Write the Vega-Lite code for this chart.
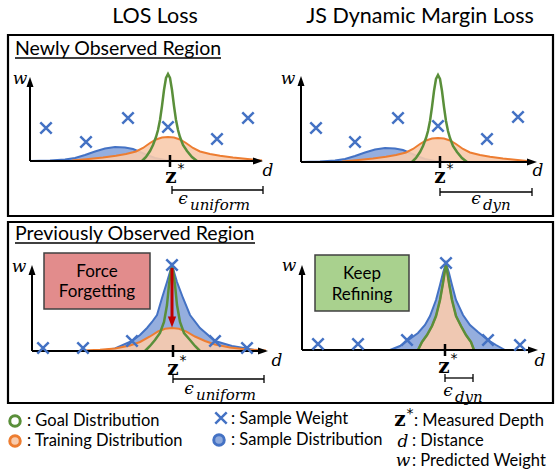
{
"$schema": "https://vega.github.io/schema/vega-lite/v6.json",
"width": 555, "height": 473, "autosize": {"type": "none"}, "padding": 0,
"background": "white",
"config": {"view": {"stroke": null}},
"datasets": {
"frames": [{"x":8,"y":35,"x2":553,"y2":216},{"x":8,"y":222,"x2":553,"y2":403}],
"boxes": [{"k":"force","x":44,"y":253,"x2":150,"y2":309},{"k":"keep","x":315,"y":255,"x2":409,"y2":311}],
"blue": [
{"p":1,"b":161,"x":30,"y":161},{"p":1,"b":161,"x":50,"y":160.5},{"p":1,"b":161,"x":65,"y":159.5},{"p":1,"b":161,"x":75,"y":158},{"p":1,"b":161,"x":85,"y":155},{"p":1,"b":161,"x":95,"y":151.5},{"p":1,"b":161,"x":105,"y":148.5},{"p":1,"b":161,"x":115,"y":147},{"p":1,"b":161,"x":125,"y":147.5},{"p":1,"b":161,"x":133,"y":149},{"p":1,"b":161,"x":140,"y":152},{"p":1,"b":161,"x":147,"y":155},{"p":1,"b":161,"x":155,"y":158},{"p":1,"b":161,"x":165,"y":160},{"p":1,"b":161,"x":180,"y":161},
{"p":2,"b":162,"x":301,"y":162},{"p":2,"b":162,"x":320,"y":161.5},{"p":2,"b":162,"x":335,"y":160.5},{"p":2,"b":162,"x":345,"y":159},{"p":2,"b":162,"x":355,"y":156},{"p":2,"b":162,"x":365,"y":152.5},{"p":2,"b":162,"x":375,"y":149.5},{"p":2,"b":162,"x":385,"y":148},{"p":2,"b":162,"x":395,"y":148.5},{"p":2,"b":162,"x":403,"y":150},{"p":2,"b":162,"x":410,"y":153},{"p":2,"b":162,"x":417,"y":156},{"p":2,"b":162,"x":425,"y":159},{"p":2,"b":162,"x":435,"y":161},{"p":2,"b":162,"x":450,"y":162},
{"p":3,"b":351,"x":100,"y":351},{"p":3,"b":351,"x":115,"y":348.5},{"p":3,"b":351,"x":132,"y":341},{"p":3,"b":351,"x":140,"y":335},{"p":3,"b":351,"x":147,"y":328},{"p":3,"b":351,"x":152,"y":322},{"p":3,"b":351,"x":157,"y":315},{"p":3,"b":351,"x":162,"y":298},{"p":3,"b":351,"x":167,"y":282},{"p":3,"b":351,"x":172,"y":265},{"p":3,"b":351,"x":177,"y":282},{"p":3,"b":351,"x":183,"y":298},{"p":3,"b":351,"x":190,"y":315},{"p":3,"b":351,"x":200,"y":328},{"p":3,"b":351,"x":215,"y":341},{"p":3,"b":351,"x":232,"y":346},{"p":3,"b":351,"x":247,"y":348.5},{"p":3,"b":351,"x":260,"y":351},
{"p":4,"b":350,"x":390,"y":350},{"p":4,"b":350,"x":400,"y":346},{"p":4,"b":350,"x":407,"y":341},{"p":4,"b":350,"x":418,"y":333},{"p":4,"b":350,"x":425,"y":325},{"p":4,"b":350,"x":430,"y":316},{"p":4,"b":350,"x":436,"y":300},{"p":4,"b":350,"x":440,"y":285},{"p":4,"b":350,"x":443,"y":273},{"p":4,"b":350,"x":446,"y":263},{"p":4,"b":350,"x":449,"y":273},{"p":4,"b":350,"x":452,"y":285},{"p":4,"b":350,"x":456,"y":300},{"p":4,"b":350,"x":463,"y":315},{"p":4,"b":350,"x":470,"y":325},{"p":4,"b":350,"x":478,"y":332},{"p":4,"b":350,"x":488,"y":340},{"p":4,"b":350,"x":496,"y":345},{"p":4,"b":350,"x":505,"y":350}
],
"orange": [
{"p":1,"b":161,"x":72,"y":160.5},{"p":1,"b":161,"x":86,"y":159.3},{"p":1,"b":161,"x":103,"y":157.5},{"p":1,"b":161,"x":116,"y":155.8},{"p":1,"b":161,"x":126,"y":154},{"p":1,"b":161,"x":136,"y":151.5},{"p":1,"b":161,"x":143,"y":148},{"p":1,"b":161,"x":150,"y":143},{"p":1,"b":161,"x":156,"y":139.5},{"p":1,"b":161,"x":162,"y":137.5},{"p":1,"b":161,"x":168,"y":137},{"p":1,"b":161,"x":174,"y":137.5},{"p":1,"b":161,"x":180,"y":139.5},{"p":1,"b":161,"x":186,"y":143},{"p":1,"b":161,"x":193,"y":148},{"p":1,"b":161,"x":200,"y":151.5},{"p":1,"b":161,"x":210,"y":154},{"p":1,"b":161,"x":220,"y":155.8},{"p":1,"b":161,"x":233,"y":157.5},{"p":1,"b":161,"x":250,"y":159.3},{"p":1,"b":161,"x":262,"y":160.5},
{"p":2,"b":162,"x":342,"y":161.5},{"p":2,"b":162,"x":356,"y":160.3},{"p":2,"b":162,"x":373,"y":158.5},{"p":2,"b":162,"x":386,"y":156.8},{"p":2,"b":162,"x":396,"y":155},{"p":2,"b":162,"x":406,"y":152.5},{"p":2,"b":162,"x":413,"y":149},{"p":2,"b":162,"x":420,"y":144},{"p":2,"b":162,"x":426,"y":140.5},{"p":2,"b":162,"x":432,"y":138.5},{"p":2,"b":162,"x":438,"y":138},{"p":2,"b":162,"x":444,"y":138.5},{"p":2,"b":162,"x":450,"y":140.5},{"p":2,"b":162,"x":456,"y":144},{"p":2,"b":162,"x":463,"y":149},{"p":2,"b":162,"x":470,"y":152.5},{"p":2,"b":162,"x":480,"y":155},{"p":2,"b":162,"x":490,"y":156.8},{"p":2,"b":162,"x":503,"y":158.5},{"p":2,"b":162,"x":520,"y":160.3},{"p":2,"b":162,"x":532,"y":161.5},
{"p":3,"b":351,"x":83,"y":350.5},{"p":3,"b":351,"x":100,"y":349.7},{"p":3,"b":351,"x":115,"y":348.5},{"p":3,"b":351,"x":130,"y":345.5},{"p":3,"b":351,"x":140,"y":342},{"p":3,"b":351,"x":150,"y":336.5},{"p":3,"b":351,"x":158,"y":331.5},{"p":3,"b":351,"x":165,"y":328.7},{"p":3,"b":351,"x":172,"y":328},{"p":3,"b":351,"x":179,"y":328.7},{"p":3,"b":351,"x":186,"y":331.5},{"p":3,"b":351,"x":195,"y":336.5},{"p":3,"b":351,"x":205,"y":341},{"p":3,"b":351,"x":215,"y":344.5},{"p":3,"b":351,"x":230,"y":347.5},{"p":3,"b":351,"x":245,"y":349.3},{"p":3,"b":351,"x":266,"y":350.5},
{"p":4,"b":350,"x":418,"y":350},{"p":4,"b":350,"x":422,"y":342},{"p":4,"b":350,"x":427,"y":335},{"p":4,"b":350,"x":432,"y":326},{"p":4,"b":350,"x":436,"y":316},{"p":4,"b":350,"x":440,"y":300},{"p":4,"b":350,"x":443,"y":283},{"p":4,"b":350,"x":445,"y":270},{"p":4,"b":350,"x":446,"y":264},{"p":4,"b":350,"x":447,"y":270},{"p":4,"b":350,"x":449,"y":283},{"p":4,"b":350,"x":452,"y":300},{"p":4,"b":350,"x":456,"y":316},{"p":4,"b":350,"x":461,"y":326},{"p":4,"b":350,"x":466,"y":335},{"p":4,"b":350,"x":471,"y":342},{"p":4,"b":350,"x":474,"y":350}
],
"green": [
{"p":1,"x":142,"y":161},{"p":1,"x":146,"y":157},{"p":1,"x":150,"y":151},{"p":1,"x":153,"y":145},{"p":1,"x":156,"y":137},{"p":1,"x":158,"y":130},{"p":1,"x":160,"y":120},{"p":1,"x":162,"y":106},{"p":1,"x":164,"y":90},{"p":1,"x":166,"y":78},{"p":1,"x":168,"y":74},{"p":1,"x":170,"y":78},{"p":1,"x":172,"y":90},{"p":1,"x":174,"y":106},{"p":1,"x":176,"y":120},{"p":1,"x":178,"y":130},{"p":1,"x":180,"y":137},{"p":1,"x":183,"y":145},{"p":1,"x":187,"y":151},{"p":1,"x":192,"y":157},{"p":1,"x":197,"y":161},
{"p":2,"x":412,"y":162},{"p":2,"x":416,"y":158},{"p":2,"x":420,"y":152},{"p":2,"x":423,"y":146},{"p":2,"x":426,"y":138},{"p":2,"x":428,"y":131},{"p":2,"x":430,"y":121},{"p":2,"x":432,"y":107},{"p":2,"x":434,"y":91},{"p":2,"x":436,"y":79},{"p":2,"x":438,"y":75},{"p":2,"x":440,"y":79},{"p":2,"x":442,"y":91},{"p":2,"x":444,"y":107},{"p":2,"x":446,"y":121},{"p":2,"x":448,"y":131},{"p":2,"x":450,"y":138},{"p":2,"x":453,"y":146},{"p":2,"x":457,"y":152},{"p":2,"x":462,"y":158},{"p":2,"x":467,"y":162},
{"p":3,"x":145,"y":351},{"p":3,"x":150,"y":346},{"p":3,"x":155,"y":340},{"p":3,"x":160,"y":333},{"p":3,"x":164,"y":322},{"p":3,"x":167,"y":305},{"p":3,"x":169,"y":285},{"p":3,"x":171,"y":270},{"p":3,"x":172,"y":266},{"p":3,"x":173,"y":270},{"p":3,"x":175,"y":285},{"p":3,"x":177,"y":305},{"p":3,"x":180,"y":322},{"p":3,"x":184,"y":333},{"p":3,"x":190,"y":340},{"p":3,"x":195,"y":346},{"p":3,"x":200,"y":351},
{"p":4,"x":418,"y":350},{"p":4,"x":422,"y":342},{"p":4,"x":427,"y":335},{"p":4,"x":432,"y":326},{"p":4,"x":436,"y":316},{"p":4,"x":440,"y":300},{"p":4,"x":443,"y":283},{"p":4,"x":445,"y":270},{"p":4,"x":446,"y":264},{"p":4,"x":447,"y":270},{"p":4,"x":449,"y":283},{"p":4,"x":452,"y":300},{"p":4,"x":456,"y":316},{"p":4,"x":461,"y":326},{"p":4,"x":466,"y":335},{"p":4,"x":471,"y":342},{"p":4,"x":474,"y":350}
],
"axes": [
{"x":30,"y":161,"x2":30,"y2":84},{"x":30,"y":161,"x2":257,"y2":161},
{"x":301,"y":162,"x2":301,"y2":83},{"x":301,"y":162,"x2":531,"y2":162},
{"x":32,"y":351,"x2":32,"y2":272},{"x":32,"y":351,"x2":262,"y2":351},
{"x":302,"y":350,"x2":302,"y2":272},{"x":302,"y":350,"x2":532,"y2":350}],
"heads": [{"x":30,"y":82,"d":"up"},{"x":258,"y":161,"d":"right"},{"x":301,"y":81,"d":"up"},{"x":532,"y":162,"d":"right"},{"x":32,"y":270,"d":"up"},{"x":263,"y":351,"d":"right"},{"x":302,"y":270,"d":"up"},{"x":533,"y":350,"d":"right"}],
"ticks": [{"x":170,"y":155,"x2":170,"y2":167},{"x":440,"y":156,"x2":440,"y2":168},{"x":173,"y":345,"x2":173,"y2":357},{"x":445,"y":344,"x2":445,"y2":356}],
"bars": [
{"x":172,"y":190,"x2":263,"y2":190},{"x":172,"y":186,"x2":172,"y2":194},{"x":263,"y":186,"x2":263,"y2":194},
{"x":440,"y":192,"x2":532,"y2":192},{"x":440,"y":188,"x2":440,"y2":196},{"x":532,"y":188,"x2":532,"y2":196},
{"x":173,"y":379,"x2":264,"y2":379},{"x":173,"y":375,"x2":173,"y2":383},{"x":264,"y":375,"x2":264,"y2":383},
{"x":445,"y":378,"x2":473,"y2":378},{"x":445,"y":374,"x2":445,"y2":382},{"x":473,"y":374,"x2":473,"y2":382}],
"under": [{"x":15,"y":58,"x2":221,"y2":58},{"x":15,"y":243,"x2":255,"y2":243}],
"redarrow": [{"x":172,"y":268,"x2":172,"y2":318}],
"redhead": [{"x":172,"y":322}],
"xmarks": [
{"x":46,"y":128},{"x":86,"y":142},{"x":128,"y":118},{"x":168,"y":127},{"x":217,"y":139},{"x":248,"y":118},
{"x":316,"y":128},{"x":355,"y":142},{"x":398,"y":118},{"x":438,"y":126},{"x":487,"y":139},{"x":518,"y":117},
{"x":43,"y":348},{"x":83,"y":348},{"x":132,"y":341},{"x":172,"y":265},{"x":215,"y":341},{"x":247,"y":348},
{"x":318,"y":344},{"x":358,"y":344},{"x":407,"y":340},{"x":446,"y":263},{"x":488,"y":340},{"x":520,"y":345},
{"x":221,"y":418}],
"leg_goal": [{"x":15,"y":421}],
"leg_train": [{"x":15,"y":441}],
"leg_samp": [{"x":219,"y":440}],
"t_hdr": [{"x":155,"y":17,"t":"LOS Loss"},{"x":420,"y":17,"t":"JS Dynamic Margin Loss"}],
"t_sec": [{"x":15,"y":55,"t":"Newly Observed Region"},{"x":15,"y":240,"t":"Previously Observed Region"}],
"t_box": [{"x":97,"y":272,"t":"Force"},{"x":97,"y":292,"t":"Forgetting"},{"x":362,"y":274,"t":"Keep"},{"x":362,"y":295,"t":"Refining"}],
"t_leg": [{"x":27,"y":421,"t":": Goal Distribution"},{"x":27,"y":441,"t":": Training Distribution"},{"x":231,"y":419,"t":": Sample Weight"},{"x":231,"y":440,"t":": Sample Distribution"},{"x":414,"y":421,"t":": Measured Depth"},{"x":412,"y":441,"t":": Distance"},{"x":412,"y":461,"t":": Predicted Weight"}],
"t_it": [{"x":20,"y":79,"t":"w"},{"x":268,"y":171,"t":"d"},{"x":288,"y":79,"t":"w"},{"x":538,"y":171,"t":"d"},{"x":19,"y":267,"t":"w"},{"x":277,"y":361,"t":"d"},{"x":289,"y":266,"t":"w"},{"x":540,"y":361,"t":"d"},{"x":403,"y":442,"t":"d"},{"x":403,"y":461,"t":"w"}],
"t_eps": [{"x":183,"y":199,"t":"ϵ"},{"x":476,"y":199,"t":"ϵ"},{"x":189,"y":389,"t":"ϵ"},{"x":448,"y":391,"t":"ϵ"}],
"t_sub": [{"x":190,"y":205,"t":"uniform"},{"x":483,"y":205,"t":"dyn"},{"x":196,"y":395,"t":"uniform"},{"x":455,"y":397,"t":"dyn"}],
"t_z": [{"x":171,"y":177,"t":"z"},{"x":440,"y":177,"t":"z"},{"x":173,"y":369,"t":"z"},{"x":444,"y":367,"t":"z"},{"x":400,"y":420,"t":"z"}],
"t_star": [{"x":181,"y":169,"t":"*"},{"x":450,"y":169,"t":"*"},{"x":183,"y":361,"t":"*"},{"x":454,"y":359,"t":"*"},{"x":410,"y":414,"t":"*"}]
},
"encoding": {
"x": {"field": "x", "type": "quantitative", "scale": {"domain": [0, 555], "nice": false, "zero": false}, "axis": null},
"y": {"field": "y", "type": "quantitative", "scale": {"domain": [0, 473], "reverse": true, "nice": false, "zero": false}, "axis": null}
},
"layer": [
{"data": {"name": "frames"}, "mark": {"type": "rect", "fillOpacity": 0, "stroke": "black", "strokeWidth": 2.2}, "encoding": {"x2": {"field": "x2"}, "y2": {"field": "y2"}}},
{"data": {"name": "boxes"}, "mark": {"type": "rect", "stroke": "#404040", "strokeWidth": 1.5, "opacity": 1}, "encoding": {"x2": {"field": "x2"}, "y2": {"field": "y2"}, "fill": {"field": "k", "type": "nominal", "scale": {"domain": ["force", "keep"], "range": ["#E28C8C", "#A9D18E"]}, "legend": null}}},
{"data": {"name": "blue"}, "mark": {"type": "area", "color": "#8FAADC", "fillOpacity": 0.95, "line": {"color": "#4472C4", "strokeWidth": 2}}, "encoding": {"y2": {"field": "b"}, "detail": {"field": "p"}}},
{"data": {"name": "orange"}, "mark": {"type": "area", "color": "#F8CBAD", "fillOpacity": 0.9, "line": {"color": "#ED7D31", "strokeWidth": 2}}, "encoding": {"y2": {"field": "b"}, "detail": {"field": "p"}}},
{"data": {"name": "green"}, "mark": {"type": "line", "color": "#5A8F3A", "strokeWidth": 2.5}, "encoding": {"detail": {"field": "p"}}},
{"data": {"name": "axes"}, "mark": {"type": "rule", "color": "black", "strokeWidth": 2}, "encoding": {"x2": {"field": "x2"}, "y2": {"field": "y2"}}},
{"data": {"name": "heads"}, "mark": {"type": "point", "filled": true, "color": "black", "size": 100, "opacity": 1}, "encoding": {"shape": {"field": "d", "type": "nominal", "scale": {"domain": ["up", "right"], "range": ["M0,-1L0.7,1L-0.7,1Z", "M1,0L-1,0.7L-1,-0.7Z"]}, "legend": null}}},
{"data": {"name": "ticks"}, "mark": {"type": "rule", "color": "black", "strokeWidth": 2.5}, "encoding": {"x2": {"field": "x2"}, "y2": {"field": "y2"}}},
{"data": {"name": "bars"}, "mark": {"type": "rule", "color": "black", "strokeWidth": 1.3}, "encoding": {"x2": {"field": "x2"}, "y2": {"field": "y2"}}},
{"data": {"name": "under"}, "mark": {"type": "rule", "color": "black", "strokeWidth": 1.3}, "encoding": {"x2": {"field": "x2"}, "y2": {"field": "y2"}}},
{"data": {"name": "redarrow"}, "mark": {"type": "rule", "color": "#C00000", "strokeWidth": 3}, "encoding": {"x2": {"field": "x2"}, "y2": {"field": "y2"}}},
{"data": {"name": "redhead"}, "mark": {"type": "point", "filled": true, "color": "#C00000", "size": 120, "opacity": 1, "shape": "M0,1L0.75,-1L-0.75,-1Z"}},
{"data": {"name": "xmarks"}, "mark": {"type": "point", "filled": false, "color": "#4472C4", "strokeWidth": 2.5, "size": 130, "opacity": 1, "shape": "M-1,-1L1,1M1,-1L-1,1"}},
{"data": {"name": "leg_goal"}, "mark": {"type": "point", "shape": "circle", "size": 110, "strokeWidth": 3, "opacity": 1, "fill": "white", "stroke": "#5A8F3A"}},
{"data": {"name": "leg_train"}, "mark": {"type": "point", "shape": "circle", "size": 110, "strokeWidth": 3, "opacity": 1, "fill": "#F8CBAD", "stroke": "#ED7D31"}},
{"data": {"name": "leg_samp"}, "mark": {"type": "point", "shape": "circle", "size": 110, "strokeWidth": 3, "opacity": 1, "fill": "#8FAADC", "stroke": "#4472C4"}},
{"data": {"name": "t_hdr"}, "mark": {"type": "text", "font": "Lato", "fontSize": 21.5, "align": "center", "baseline": "middle", "color": "black"}, "encoding": {"text": {"field": "t"}}},
{"data": {"name": "t_sec"}, "mark": {"type": "text", "font": "Lato", "fontSize": 19.5, "align": "left", "baseline": "alphabetic", "color": "black"}, "encoding": {"text": {"field": "t"}}},
{"data": {"name": "t_box"}, "mark": {"type": "text", "font": "Lato", "fontSize": 17, "align": "center", "baseline": "middle", "color": "black"}, "encoding": {"text": {"field": "t"}}},
{"data": {"name": "t_leg"}, "mark": {"type": "text", "font": "Lato", "fontSize": 16.5, "align": "left", "baseline": "middle", "color": "black"}, "encoding": {"text": {"field": "t"}}},
{"data": {"name": "t_it"}, "mark": {"type": "text", "font": "DejaVu Serif", "fontStyle": "italic", "fontSize": 17, "align": "center", "baseline": "middle", "color": "black"}, "encoding": {"text": {"field": "t"}}},
{"data": {"name": "t_eps"}, "mark": {"type": "text", "font": "DejaVu Serif", "fontStyle": "italic", "fontSize": 17, "align": "center", "baseline": "middle", "color": "black"}, "encoding": {"text": {"field": "t"}}},
{"data": {"name": "t_sub"}, "mark": {"type": "text", "font": "DejaVu Serif", "fontStyle": "italic", "fontSize": 15, "align": "left", "baseline": "middle", "color": "black"}, "encoding": {"text": {"field": "t"}}},
{"data": {"name": "t_z"}, "mark": {"type": "text", "font": "DejaVu Serif", "fontWeight": "bold", "fontSize": 20, "align": "center", "baseline": "middle", "color": "black"}, "encoding": {"text": {"field": "t"}}},
{"data": {"name": "t_star"}, "mark": {"type": "text", "font": "DejaVu Sans", "fontSize": 14, "align": "center", "baseline": "middle", "color": "black"}, "encoding": {"text": {"field": "t"}}}
]
}
